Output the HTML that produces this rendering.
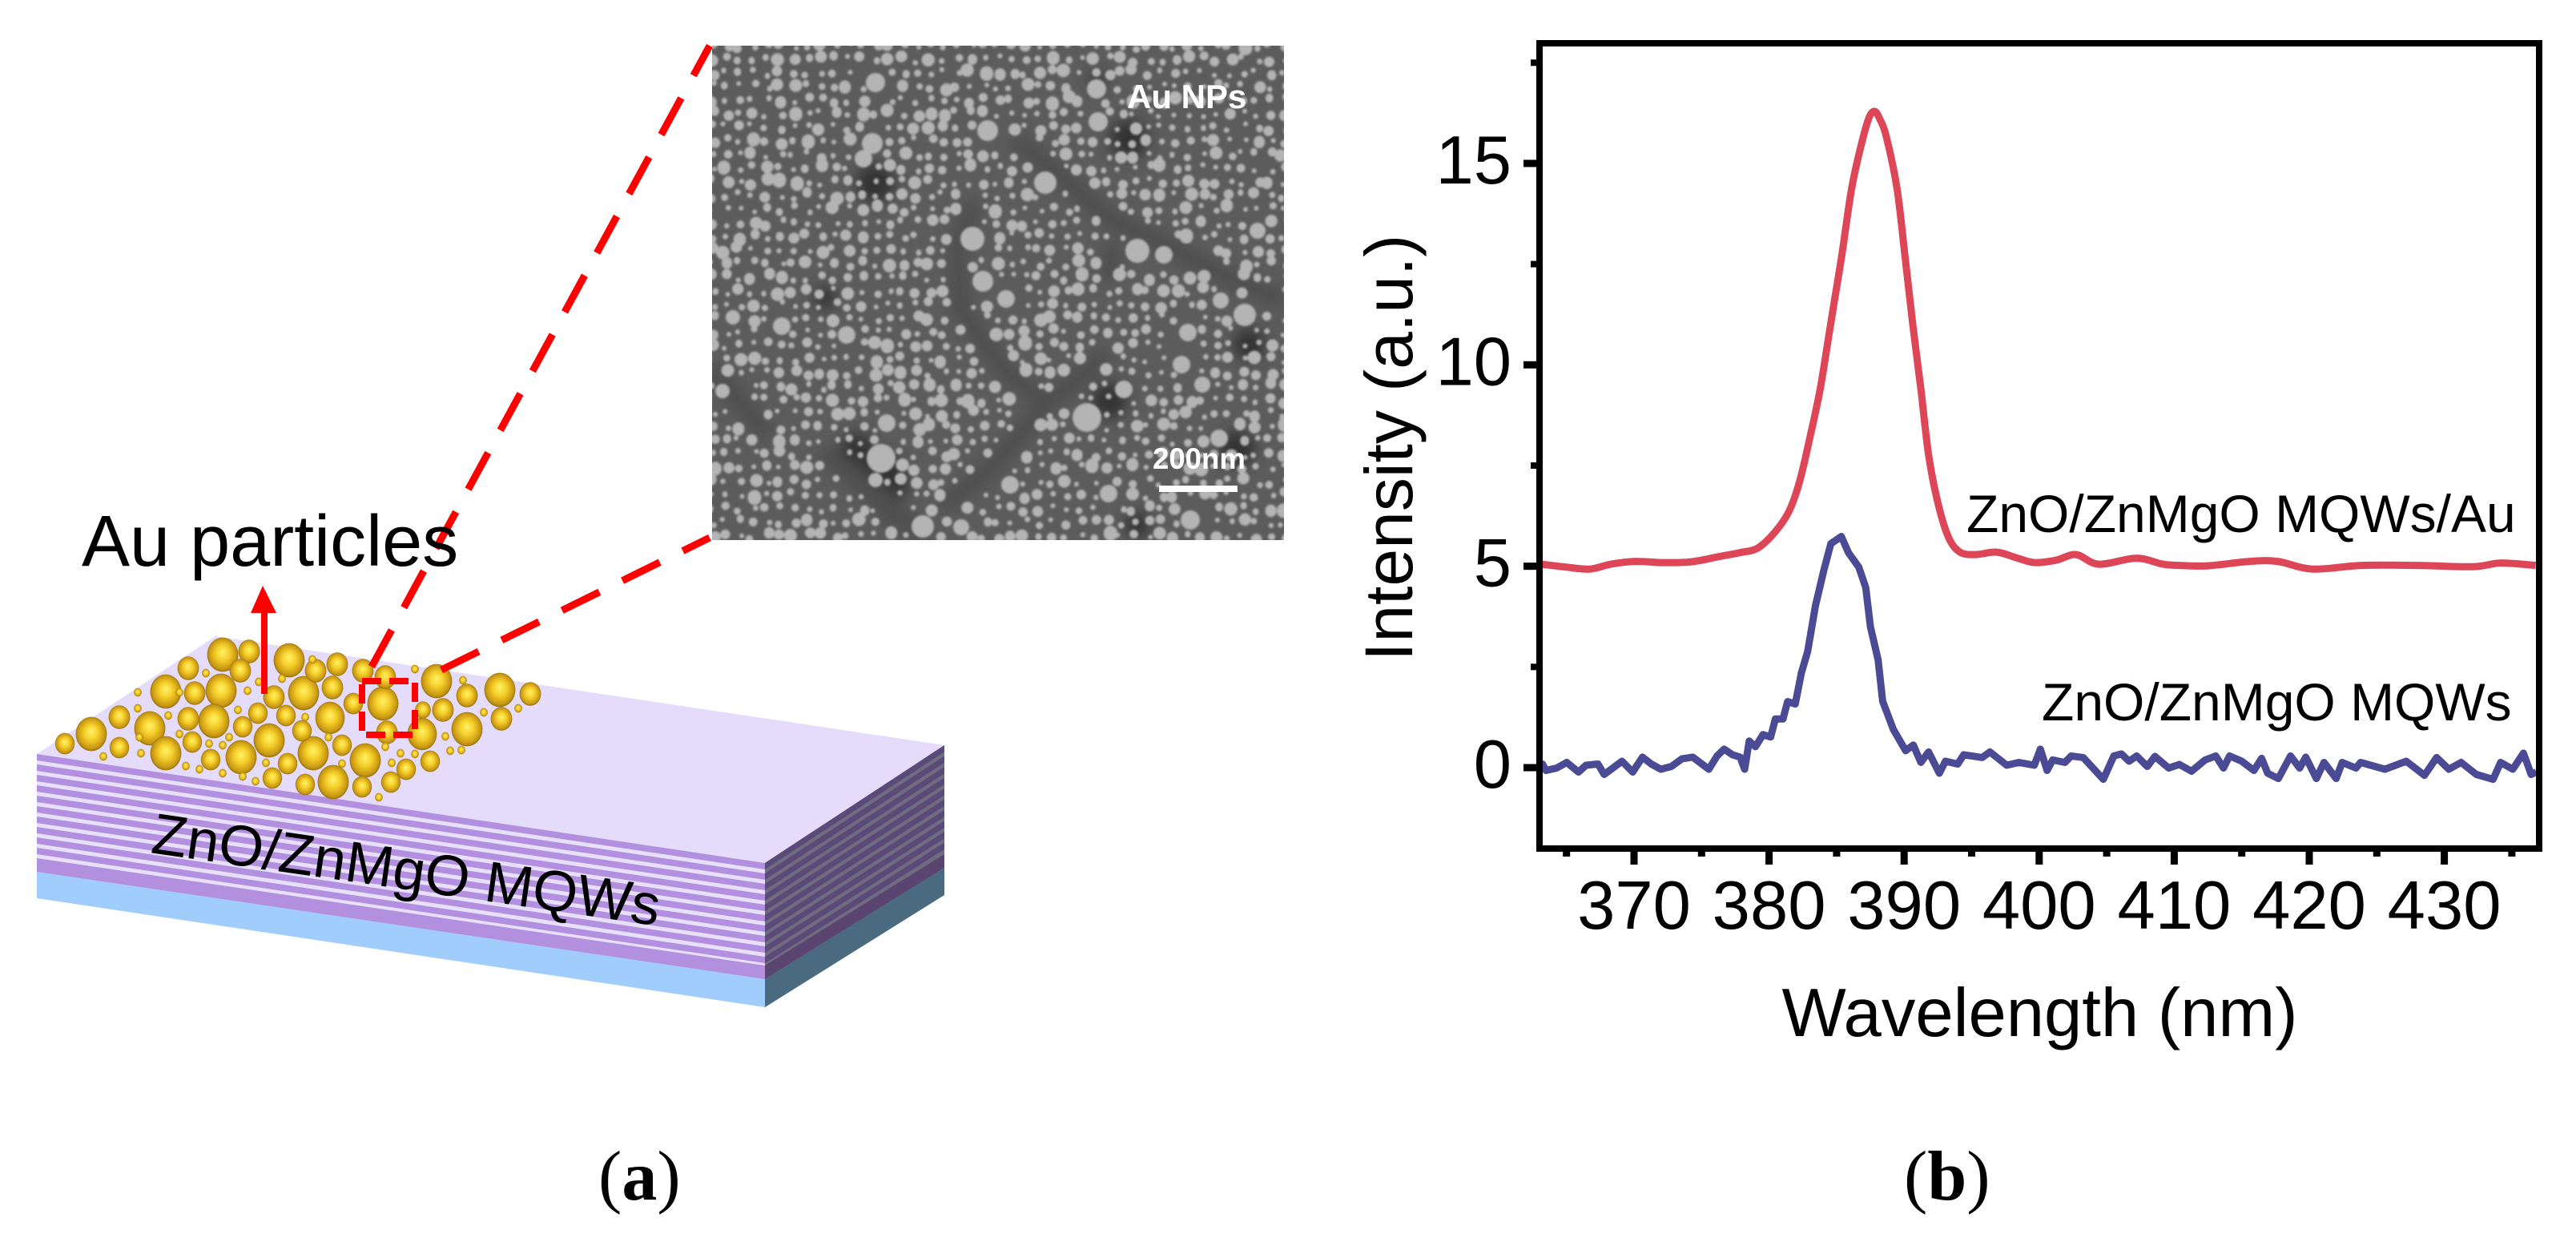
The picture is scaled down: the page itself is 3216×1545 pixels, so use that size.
<!DOCTYPE html>
<html lang="en">
<head>
<meta charset="utf-8">
<title>Au particles on ZnO/ZnMgO MQWs and PL spectra</title>
<style>
html,body{margin:0;padding:0;background:#fff;}
svg{display:block;}
text{font-family:"Liberation Sans",Arial,sans-serif;fill:#000;}
.serif{font-family:"Liberation Serif","Times New Roman",serif;}
</style>
</head>
<body>
<svg id="fig" xmlns="http://www.w3.org/2000/svg" width="3216" height="1545" viewBox="0 0 3216 1545">
  <defs>
    <radialGradient id="gold" cx="0.5" cy="0.5" r="0.55" fx="0.5" fy="0.42">
      <stop offset="0" stop-color="#fff36a"/>
      <stop offset="0.4" stop-color="#f5cf2a"/>
      <stop offset="0.8" stop-color="#c89612"/>
      <stop offset="1" stop-color="#6e5a14"/>
    </radialGradient>
    <filter id="semBlur" x="-5%" y="-5%" width="110%" height="110%"><feGaussianBlur stdDeviation="1.2"/></filter>
    <filter id="semBlurBig" x="-5%" y="-5%" width="110%" height="110%"><feGaussianBlur stdDeviation="9"/></filter>
    <clipPath id="semClip"><rect x="889" y="57" width="714" height="617"/></clipPath>
    <clipPath id="plotClip"><rect x="1926" y="58" width="1240" height="997"/></clipPath>
  </defs>
  <rect x="0" y="0" width="3216" height="1545" fill="#fff"/>

  <g id="panel-a">
    <g id="box">
      <polygon points="46,941 269,794 1179,930 955,1077" fill="#e5dbfa"/>
      <polygon points="46,941 955,1077 955,1222 46,1088" fill="#e8dffb"/>
      <polygon points="955,1077 1179,930 1179,1083 955,1222" fill="#6f6b80"/>
      <polygon points="46,1088 955,1222 955,1257 46,1121" fill="#a0cdfc"/>
      <polygon points="955,1222 1179,1083 1179,1117 955,1257" fill="#4a6a80"/>
      <polygon points="46,1071 955,1205 955,1222 46,1088" fill="#b28fdf"/>
      <polygon points="955,1205 1179,1066 1179,1083 955,1222" fill="#5a4570"/>
    </g>
    <g id="particles"></g>
    <rect x="452" y="850" width="66" height="67" fill="none" stroke="#f00" stroke-width="8" stroke-dasharray="24 10"/>
    <line x1="464" y1="832" x2="886" y2="57" stroke="#f00" stroke-width="9" stroke-dasharray="52 32"/>
    <line x1="551" y1="836" x2="886" y2="671" stroke="#f00" stroke-width="9" stroke-dasharray="52 32"/>
    <line x1="330" y1="866" x2="330" y2="760" stroke="#f00" stroke-width="8"/>
    <polygon points="328,731 313,765 345,765" fill="#f00"/>
    <text x="102" y="706" font-size="90">Au particles</text>
    <text x="187" y="1064" font-size="72" transform="rotate(8.2 187 1064)">ZnO/ZnMgO MQWs</text>

    <g id="sem" clip-path="url(#semClip)">
      <rect x="889" y="57" width="714" height="617" fill="#5c5c5c"/>
      <g id="semShade" filter="url(#semBlurBig)"></g>
      <g filter="url(#semBlur)">
        <path id="semDots" fill="#b4b4b4" d=""/>
      </g>
    </g>
    <text x="1407" y="135" font-size="42" font-weight="700" style="fill:#fff">Au NPs</text>
    <text x="1439" y="585" font-size="36.6" font-weight="700" style="fill:#fff">200nm</text>
    <rect x="1447" y="606" width="98" height="8" fill="#fff"/>
  </g>

  <g id="panel-b">
    <g id="series" clip-path="url(#plotClip)"></g>
    <g id="ticks"></g>
    <rect x="1922" y="54" width="1248" height="1005" fill="none" stroke="#000" stroke-width="8"/>
    <text x="2455" y="664" font-size="66">ZnO/ZnMgO MQWs/Au</text>
    <text x="2549" y="899" font-size="66">ZnO/ZnMgO MQWs</text>
    <text x="2546.5" y="1293" font-size="85" text-anchor="middle">Wavelength (nm)</text>
    <text x="0" y="0" font-size="84" transform="translate(1763 825) rotate(-90)">Intensity (a.u.)</text>
  </g>

  <text class="serif" x="747" y="1497" font-size="88">(<tspan font-weight="700">a</tspan>)</text>
  <text class="serif" x="2377" y="1497" font-size="88">(<tspan font-weight="700">b</tspan>)</text>
</svg>

<script>
var xTickValues = [370, 380, 390, 400, 410, 420, 430];
var xMinorValues = [365, 375, 385, 395, 405, 415, 425, 435];
var yTickValues = [0, 5, 10, 15];
var yMinorValues = [2.5, 7.5, 12.5, 17.5];

var auWavelength = [363.13,364.94,366.74,368.29,370.1,372.17,374.24,376.3,377.86,379.15,380.44,381.47,382.25,383.02,383.8,384.57,385.35,386.12,386.9,387.42,387.83,388.2,388.68,389.47,390.05,390.64,391.25,391.83,392.54,393.3,394.14,395.3,396.87,398.4,399.66,401.26,402.74,404.4,407.19,409.15,410.41,412.48,415.58,417.65,420.23,423.85,427.98,432.12,434.19,436.77];
var auIntensity = [5.05,4.98,4.93,5.05,5.12,5.09,5.11,5.24,5.34,5.45,5.85,6.36,7.09,8.19,9.43,11.04,12.64,14.39,15.56,16.15,16.29,16.1,15.67,14.38,12.75,11,9.37,7.72,6.52,5.71,5.35,5.29,5.35,5.2,5.09,5.15,5.29,5.05,5.2,5.05,5.02,5.01,5.12,5.12,4.93,5.02,5.02,4.99,5.08,5.02];

var bareWavelength = [362.8,363.22,363.48,364.27,365.02,365.89,366.44,367.33,367.79,369.11,369.9,370.63,371.28,371.98,372.77,373.56,374.35,375.54,376.15,376.67,377.29,377.85,378.19,378.53,378.99,379.55,380.12,380.46,381.03,381.37,381.94,382.39,382.85,383.19,383.44,384.06,384.57,385.35,385.87,386.64,387.16,387.5,388.07,388.41,389.2,390.11,390.68,391.24,391.81,392.61,393.06,393.97,394.42,395.78,396.35,397.6,398.5,399.64,400.09,400.59,401,401.91,402.37,403.27,404.75,405.53,406.09,406.66,407.22,408.01,408.57,409.59,410.38,411.28,412.29,413.08,413.65,414.1,415,415.9,416.47,416.92,417.71,418.61,419.29,419.74,420.53,421.09,421.99,422.44,423.46,423.8,425.6,427.18,428.53,429.43,430.34,431.24,432.37,433.61,434.17,435.07,435.86,436.43,436.81];
var bareIntensity = [0.1,0.09,-0.07,-0.01,0.13,-0.11,0.06,0.09,-0.17,0.16,-0.11,0.26,0.09,-0.04,0.03,0.22,0.26,-0.04,0.29,0.46,0.32,0.26,-0.04,0.66,0.52,0.82,0.76,1.21,1.21,1.64,1.58,2.35,2.88,3.54,4.03,4.91,5.56,5.74,5.34,4.98,4.47,3.5,2.68,1.65,0.95,0.42,0.56,0.13,0.39,-0.14,0.16,0.09,0.32,0.25,0.39,0.06,0.13,0.06,0.46,-0.07,0.19,0.13,0.29,0.25,-0.29,0.29,0.34,0.16,0.29,0.03,0.28,-0.01,0.08,-0.09,0.19,0.29,-0.01,0.29,0.16,-0.07,0.23,-0.14,-0.27,0.29,-0.01,0.26,-0.27,0.13,-0.27,0.13,-0.01,0.13,-0.04,0.16,-0.19,0.25,-0.04,0.13,-0.17,-0.29,0.13,-0.04,0.36,-0.17,-0.11];

var SVGNS = 'http://www.w3.org/2000/svg';
function xScale(v) { return 2040 + (v - 370) * 16.86; }
function yScale(v) { return 958 - v * 50.27; }

function smoothPath(xs, ys) {
  var d = 'M' + xScale(xs[0]).toFixed(1) + ' ' + yScale(ys[0]).toFixed(1);
  for (var i = 0; i < xs.length - 1; i++) {
    var i0 = Math.max(i - 1, 0), i3 = Math.min(i + 2, xs.length - 1);
    var x0 = xScale(xs[i0]), y0 = yScale(ys[i0]);
    var x1 = xScale(xs[i]), y1 = yScale(ys[i]);
    var x2 = xScale(xs[i + 1]), y2 = yScale(ys[i + 1]);
    var x3 = xScale(xs[i3]), y3 = yScale(ys[i3]);
    d += 'C' + (x1 + (x2 - x0) / 6).toFixed(1) + ' ' + (y1 + (y2 - y0) / 6).toFixed(1) + ' ' +
      (x2 - (x3 - x1) / 6).toFixed(1) + ' ' + (y2 - (y3 - y1) / 6).toFixed(1) + ' ' +
      x2.toFixed(1) + ' ' + y2.toFixed(1);
  }
  return d;
}
function linePath(xs, ys) {
  var d = '';
  for (var i = 0; i < xs.length; i++) {
    d += (i ? 'L' : 'M') + xScale(xs[i]).toFixed(1) + ' ' + yScale(ys[i]).toFixed(1);
  }
  return d;
}

var seriesGroup = document.getElementById('series');
var auLine = document.createElementNS(SVGNS, 'path');
auLine.setAttribute('d', smoothPath(auWavelength, auIntensity));
auLine.setAttribute('fill', 'none');
auLine.setAttribute('stroke', '#dd4657');
auLine.setAttribute('stroke-width', '9');
auLine.setAttribute('stroke-linejoin', 'round');


seriesGroup.appendChild(auLine);

var bareLine = document.createElementNS(SVGNS, 'path');
bareLine.setAttribute('d', linePath(bareWavelength, bareIntensity));
bareLine.setAttribute('fill', 'none');
bareLine.setAttribute('stroke', '#4b4a94');
bareLine.setAttribute('stroke-width', '9');
bareLine.setAttribute('stroke-linejoin', 'round');


seriesGroup.appendChild(bareLine);

var tickGroup = document.getElementById('ticks');
function addRect(x, y, w, h, name) {
  var r = document.createElementNS(SVGNS, 'rect');
  r.setAttribute('x', x);
  r.setAttribute('y', y);
  r.setAttribute('width', w);
  r.setAttribute('height', h);
  r.setAttribute('fill', '#000');
  
  
  tickGroup.appendChild(r);
}
function addLabel(x, y, anchor, str, name) {
  var t = document.createElementNS(SVGNS, 'text');
  t.setAttribute('x', x);
  t.setAttribute('y', y);
  t.setAttribute('text-anchor', anchor);
  t.setAttribute('font-size', '85');
  t.textContent = str;
  
  
  tickGroup.appendChild(t);
}
xTickValues.forEach(function (v) {
  addRect(xScale(v) - 4.5, 1059, 9, 20, 'x-major-tick');
  addLabel(xScale(v), 1159, 'middle', String(v), 'x-tick-label');
});
xMinorValues.forEach(function (v) {
  addRect(xScale(v) - 4.5, 1059, 9, 10, 'x-minor-tick');
});
yTickValues.forEach(function (v) {
  addRect(1902, yScale(v) - 4.5, 20, 9, 'y-major-tick');
  addLabel(1887, yScale(v) + 25, 'end', String(v), 'y-tick-label');
});
yMinorValues.forEach(function (v) {
  addRect(1911, yScale(v) - 4, 11, 8, 'y-minor-tick');
});

/* MQW stripes on the illustration */
var box = document.getElementById('box');
var substrateSide = box.children[3];
function sideDy(y) { return -147 + 7 * (y - 1077) / 180; }
for (var s = 0; s < 10; s++) {
  var top0 = 941 + s * 13, h0 = 8;
  var dY = 136;
  var front = document.createElementNS(SVGNS, 'polygon');
  front.setAttribute('points', '46,' + top0 + ' 955,' + (top0 + dY) + ' 955,' + (top0 + dY + h0) + ' 46,' + (top0 + h0));
  front.setAttribute('fill', '#b28fdf');
  
  
  box.insertBefore(front, substrateSide);
  var yA = top0 + dY, yB = yA + h0;
  var side = document.createElementNS(SVGNS, 'polygon');
  side.setAttribute('points', '955,' + yA + ' 1179,' + (yA + sideDy(yA)) + ' 1179,' + (yB + sideDy(yB)) + ' 955,' + yB);
  side.setAttribute('fill', '#5a4a78');
  
  
  box.insertBefore(side, substrateSide);
}

/* Gold particles on the illustration: [x, y, r] in image space */
var goldParticles = [
[278,817,18],[361,824,18],[207,863,18],[276,862,18],[379,865,18],[267,900,18],[187,909,18],[114,916,18],[336,924,18],[412,896,17],[207,940,18],[301,945,18],[391,940,18],[456,949,18],[416,976,18],[478,878,18],[545,850,18],[624,861,18],[583,910,18],[527,916,17],
[311,813,11],[235,834,11],[300,837,11],[394,837,11],[421,829,11],[453,837,11],[481,845,11],[243,865,11],[342,870,11],[415,858,11],[441,878,10],[583,868,11],[662,866,11],[553,886,11],[626,897,11],[149,895,11],[235,897,11],[322,890,10],[357,893,10],[303,907,10],[377,912,10],[240,926,10],[149,933,10],[81,928,10],[427,930,10],[483,914,11],[263,948,10],[359,953,10],[340,971,10],[381,979,10],[452,982,10],[488,976,10],[507,960,10],[537,950,10],[528,886,8],
[172,864,4],[257,840,4],[224,864,4],[309,862,4],[352,847,4],[323,851,4],[390,823,4],[518,835,4],[578,849,4],[172,884,4],[210,893,4],[297,886,4],[381,895,4],[604,889,4],[647,884,4],[174,920,4],[129,944,4],[176,940,4],[224,916,4],[261,928,4],[278,930,4],[286,920,4],[232,956,4],[249,960,4],[278,965,4],[303,969,4],[319,975,4],[332,952,4],[410,920,4],[427,953,4],[481,932,4],[500,940,4],[518,941,4],[489,952,4],[473,995,4],[556,919,4],[562,937,4],[576,936,4]
];
var particleGroup = document.getElementById('particles');
goldParticles.forEach(function (p) {
  var k = p[2] >= 15 ? 1.08 : 1.22;
  var c = document.createElementNS(SVGNS, 'ellipse');
  c.setAttribute('cx', p[0]);
  c.setAttribute('cy', p[1]);
  c.setAttribute('rx', p[2] * k);
  c.setAttribute('ry', p[2] * k * 1.1);
  c.setAttribute('fill', 'url(#gold)');
  
  
  particleGroup.appendChild(c);
});

/* SEM micrograph texture (illustration only) */
var semBands = [
[[1266,174],[1317,214],[1384,272],[1460,308],[1537,348],[1603,375]],
[[1215,250],[1195,317],[1200,388],[1256,464],[1307,504],[1236,585],[1174,634]],
[[1389,303],[1384,352]],
[[1027,562],[1118,643]],
[[1056,583],[1155,671]],
[[889,460],[960,545]],
[[1307,504],[1384,442]]
];
var semBig = [
[1093,103,12],[1233,163,13],[1089,179,13],[1078,198,11],[1214,298,15],[1227,351,13],[1100,572,18],[1093,599,9],[1107,528,11],[1057,418,11],[976,407,11],[1152,657,14],[915,396,9],[902,488,9],
[1369,111,12],[1371,152,12],[1305,228,14],[1420,313,15],[1453,318,11],[1256,373,11],[1554,393,14],[1483,415,11],[1357,521,18],[1486,649,12],[1384,616,11],[1403,486,11],[1501,480,10],[1570,288,10],[1524,375,10],[1522,547,11],[1261,605,11],[1475,455,11],[1200,658,10]
];
var semShadeSpots = [
[1409,174,24],[1093,229,24],[1100,600,34],[1070,560,20],[1230,430,14],[1385,500,22],[1560,430,20],[1545,560,22],[1030,372,14],[1115,640,16],[1370,100,10],[1420,655,16]
];
var shadeGroup = document.getElementById('semShade');
semShadeSpots.forEach(function (p) {
  var c = document.createElementNS(SVGNS, 'circle');
  c.setAttribute('cx', p[0]);
  c.setAttribute('cy', p[1]);
  c.setAttribute('r', p[2]);
  c.setAttribute('fill', '#333333');
  
  
  shadeGroup.appendChild(c);
});
semBands.forEach(function (b) {
  var pl = document.createElementNS(SVGNS, 'polyline');
  pl.setAttribute('points', b.map(function (q) { return q.join(','); }).join(' '));
  pl.setAttribute('fill', 'none');
  pl.setAttribute('stroke', '#505050');
  pl.setAttribute('stroke-width', '26');
  
  
  shadeGroup.appendChild(pl);
});
function segDist(px, py, a, b) {
  var dx = b[0] - a[0], dy = b[1] - a[1];
  var t = ((px - a[0]) * dx + (py - a[1]) * dy) / (dx * dx + dy * dy);
  t = Math.max(0, Math.min(1, t));
  return Math.hypot(px - a[0] - t * dx, py - a[1] - t * dy);
}
var seed = 12345;
function rnd() { seed = (seed * 1103515245 + 12345) % 2147483648; return seed / 2147483648; }
function dot(x, y, r) {
  return 'M' + (x - r).toFixed(1) + ' ' + y.toFixed(1) + 'a' + r.toFixed(1) + ' ' + r.toFixed(1) + ' 0 1 0 ' + (2 * r).toFixed(1) + ' 0a' + r.toFixed(1) + ' ' + r.toFixed(1) + ' 0 1 0 ' + (-2 * r).toFixed(1) + ' 0';
}
var dd = '';
semBig.forEach(function (p) { dd += dot(p[0], p[1], p[2]); });
var pitch = 17;
for (var gy = 57; gy < 680; gy += pitch) {
  for (var gx = 889; gx < 1610; gx += pitch) {
    var px = gx + (rnd() - 0.5) * 9, py = gy + (rnd() - 0.5) * 9;
    var rr = 3 + Math.pow(rnd(), 1.8) * 5.5;
    var skip = false;
    for (var bi = 0; bi < semBands.length && !skip; bi++) {
      for (var si = 0; si < semBands[bi].length - 1; si++) {
        if (segDist(px, py, semBands[bi][si], semBands[bi][si + 1]) < 11) { skip = true; break; }
      }
    }
    for (var qi = 0; qi < semBig.length && !skip; qi++) {
      if (Math.hypot(px - semBig[qi][0], py - semBig[qi][1]) < semBig[qi][2] + rr + 1) { skip = true; }
    }
    if (!skip) { dd += dot(px, py, rr); }
  }
}
document.getElementById('semDots').setAttribute('d', dd);
</script>
</body>
</html>
